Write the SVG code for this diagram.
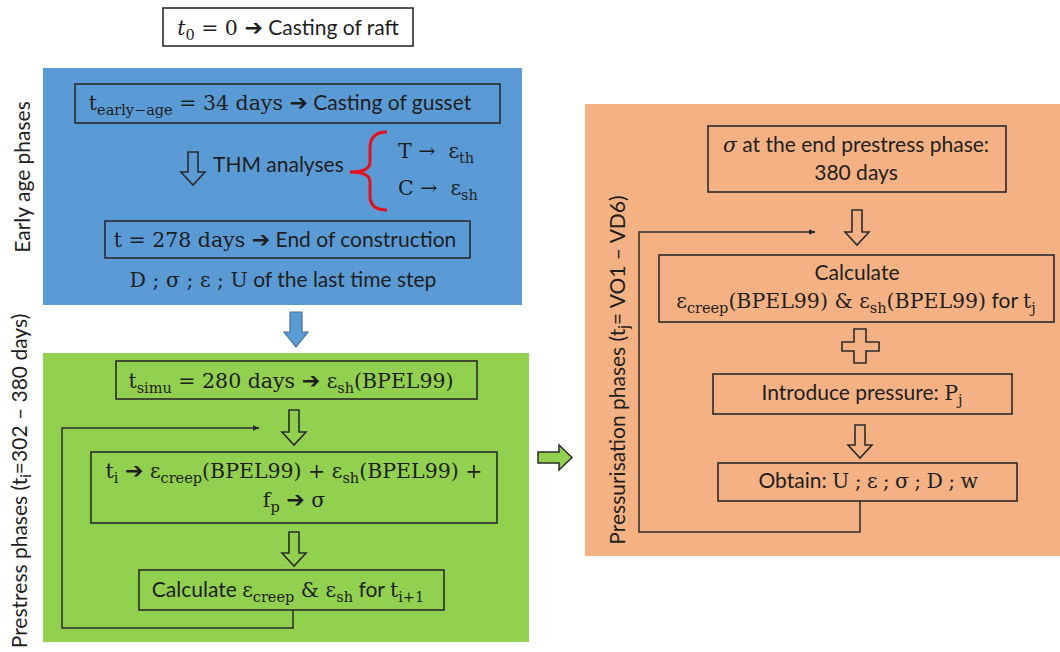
<svg xmlns="http://www.w3.org/2000/svg" width="1060" height="652" viewBox="0 0 1060 652">
<defs>
<style>
text{fill:#1e1e1e;}
.s{font-family:Lato,"Liberation Sans",sans-serif;font-size:21px;}
.m{font-family:"DejaVu Serif","Liberation Serif",serif;font-size:20.5px;}
.mi{font-family:"DejaVu Serif","Liberation Serif",serif;font-size:20.5px;font-style:italic;}
.sub{font-family:"DejaVu Serif","Liberation Serif",serif;font-size:14.5px;}
.ssub{font-family:Lato,"Liberation Sans",sans-serif;font-size:15px;}
.arr{font-family:"DejaVu Sans",sans-serif;font-size:22px;}
.box{fill:none;stroke:#2b2b2b;stroke-width:1.6;}
.hollow{fill:none;stroke:#2b2b2b;stroke-width:1.6;stroke-linejoin:miter;}
.loop{fill:none;stroke:#2b2b2b;stroke-width:1.5;}
</style>
<marker id="ah" viewBox="0 0 10 10" refX="9" refY="5" markerWidth="7" markerHeight="7" orient="auto" markerUnits="userSpaceOnUse">
<path d="M0,1 L10,5 L0,9 Z" fill="#2b2b2b"/>
</marker>
</defs>
<rect width="1060" height="652" fill="#ffffff"/>

<!-- panels -->
<g id="panel-early">
<rect x="43" y="68" width="479" height="237" fill="#5b9bd5"/>
<text class="s" transform="translate(30,177) rotate(-90)" text-anchor="middle">Early age phases</text>
</g>
<g id="panel-prestress">
<rect x="43" y="353" width="486" height="289" fill="#92d050"/>
<text class="s" transform="translate(27,481) rotate(-90)" text-anchor="middle">Prestress phases (t<tspan class="ssub" dy="4">i</tspan><tspan dy="-4">=302 – 380 days)</tspan></text>
</g>
<g id="panel-pressurisation">
<rect x="585" y="104" width="475" height="452" fill="#f4b183"/>
<text class="s" transform="translate(625,370) rotate(-90)" text-anchor="middle">Pressurisation phases (t<tspan class="ssub" dy="4">j</tspan><tspan dy="-4">= VO1 – VD6)</tspan></text>
</g>

<!-- nodes -->
<g id="n-start">
<rect class="box" x="163" y="8" width="250" height="38" fill="#fff"/>
<text x="288" y="35" text-anchor="middle"><tspan class="mi">t</tspan><tspan class="sub" dy="5">0</tspan><tspan class="m" dy="-5"> = 0 </tspan><tspan class="arr">➔</tspan><tspan class="s"> Casting of raft</tspan></text>
</g>

<g id="n-gusset">
<rect class="box" x="75" y="84" width="425" height="39"/>
<text x="280" y="110" text-anchor="middle"><tspan class="m">t</tspan><tspan class="sub" dy="5">early−age</tspan><tspan class="m" dy="-5"> = 34 days </tspan><tspan class="arr">➔</tspan><tspan class="s"> Casting of gusset</tspan></text>
</g>

<g id="n-thm">
<text class="s" x="213" y="172">THM analyses</text>
<path d="M387,132 Q370,132 370,148 L370,162 Q370,172 350,172 Q370,172 370,182 L370,196 Q370,210 387,210" fill="none" stroke="#e3101d" stroke-width="3"/>
<text x="398" y="158"><tspan class="m">T →&#160; ε</tspan><tspan class="sub" dy="5">th</tspan></text>
<text x="398" y="195"><tspan class="m">C →&#160; ε</tspan><tspan class="sub" dy="5">sh</tspan></text>
</g>

<g id="n-endconst">
<rect class="box" x="105" y="221" width="365" height="37"/>
<text x="285" y="247" text-anchor="middle"><tspan class="m">t = 278 days </tspan><tspan class="arr">➔</tspan><tspan class="s"> End of construction</tspan></text>
<text x="283" y="287" text-anchor="middle"><tspan class="m">D ; σ ; ε ; U</tspan><tspan class="s"> of the last time step</tspan></text>
</g>

<g id="n-simu">
<rect class="box" x="116" y="361" width="361" height="38"/>
<text x="291" y="388" text-anchor="middle"><tspan class="m">t</tspan><tspan class="sub" dy="5">simu</tspan><tspan class="m" dy="-5"> = 280 days </tspan><tspan class="arr">➔</tspan><tspan class="m"> ε</tspan><tspan class="sub" dy="5">sh</tspan><tspan class="m" dy="-5">(BPEL99)</tspan></text>
</g>

<g id="n-ti">
<rect class="box" x="91" y="452" width="406" height="71"/>
<text x="294" y="478" text-anchor="middle"><tspan class="m">t</tspan><tspan class="sub" dy="5">i</tspan><tspan class="m" dy="-5"> </tspan><tspan class="arr">➔</tspan><tspan class="m"> ε</tspan><tspan class="sub" dy="5">creep</tspan><tspan class="m" dy="-5">(BPEL99) + ε</tspan><tspan class="sub" dy="5">sh</tspan><tspan class="m" dy="-5">(BPEL99) +</tspan></text>
<text x="294" y="507" text-anchor="middle"><tspan class="m">f</tspan><tspan class="sub" dy="5">p</tspan><tspan class="m" dy="-5"> </tspan><tspan class="arr">➔</tspan><tspan class="m"> σ</tspan></text>
</g>

<g id="n-calc-i">
<rect class="box" x="139" y="570" width="305" height="40"/>
<text x="288" y="597" text-anchor="middle"><tspan class="s">Calculate </tspan><tspan class="m">ε</tspan><tspan class="sub" dy="5">creep</tspan><tspan class="m" dy="-5"> &amp; ε</tspan><tspan class="sub" dy="5">sh</tspan><tspan class="s" dy="-5"> for </tspan><tspan class="m">t</tspan><tspan class="sub" dy="5">i+1</tspan></text>
</g>

<g id="n-sigma">
<rect class="box" x="708" y="126" width="298" height="66"/>
<text x="856" y="152" text-anchor="middle"><tspan class="mi">σ</tspan><tspan class="s"> at the end prestress phase:</tspan></text>
<text class="s" x="856" y="180" text-anchor="middle">380 days</text>
</g>

<g id="n-calc-j">
<rect class="box" x="659" y="255" width="395" height="67"/>
<text class="s" x="857" y="280" text-anchor="middle">Calculate</text>
<text x="856" y="308" text-anchor="middle"><tspan class="m">ε</tspan><tspan class="sub" dy="5">creep</tspan><tspan class="m" dy="-5">(BPEL99) &amp; ε</tspan><tspan class="sub" dy="5">sh</tspan><tspan class="m" dy="-5">(BPEL99)</tspan><tspan class="s"> for </tspan><tspan class="m">t</tspan><tspan class="sub" dy="5">j</tspan></text>
</g>

<g id="n-pressure">
<rect class="box" x="713" y="374" width="299" height="40"/>
<text x="862" y="400" text-anchor="middle"><tspan class="s">Introduce pressure: </tspan><tspan class="m">P</tspan><tspan class="sub" dy="5">j</tspan></text>
</g>

<g id="n-obtain">
<rect class="box" x="718" y="463" width="299" height="38"/>
<text x="868" y="488" text-anchor="middle"><tspan class="s">Obtain: </tspan><tspan class="m" letter-spacing="-0.6">U ; ε ; σ ; D ; w</tspan></text>
</g>

<!-- connectors -->
<g id="connectors">
<path class="hollow" d="M188,152 H198 V172 H205 L193,185 L181,172 H188 Z"/>
<path class="hollow" d="M289,410 H299 V432 H306 L294,445 L282,432 H289 Z"/>
<path class="hollow" d="M289,532 H299 V553 H306 L294,566 L282,553 H289 Z"/>
<path class="hollow" d="M852,210 H862 V232 H869 L857,245 L845,232 H852 Z"/>
<path class="hollow" d="M855,425 H865 V445 H872 L860,458 L848,445 H855 Z"/>
<path class="hollow" d="M854,329 H866 V342 H879 V351 H866 V363 H854 V351 H842 V342 H854 Z"/>
<path d="M290,312 H302 V332 H308 L296,347 L284,332 H290 Z" fill="#5b9bd5" stroke="#41719c" stroke-width="1.2"/>
<path d="M538,452 H559 V445 L572,457.5 L559,470 V463 H538 Z" fill="#92d050" stroke="#2b2b2b" stroke-width="1.5"/>
<path class="loop" d="M293,610 V628 H62 V428 H259" marker-end="url(#ah)"/>
<path class="loop" d="M860,501 V532 H639 V232 H815" marker-end="url(#ah)"/>
</g>
</svg>
